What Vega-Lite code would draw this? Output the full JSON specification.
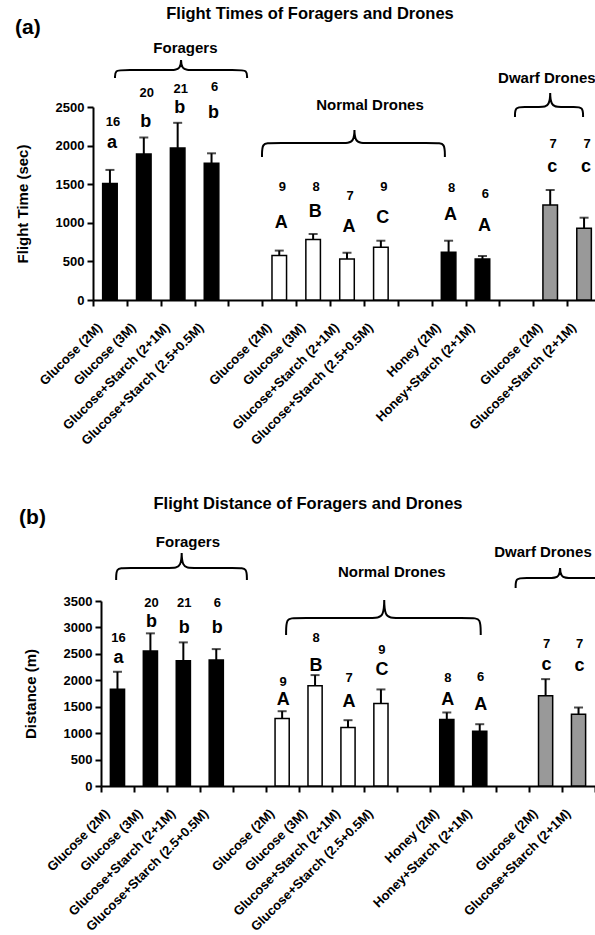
{
  "$schema": "https://vega.github.io/schema/vega-lite/v6.json",
  "autosize": {"type": "none"},
  "padding": {"left": 93, "top": 107, "right": 0, "bottom": 0},
  "background": "white",
  "params": [{"name": "width", "value": 502}, {"name": "height", "value": 828}],
  "config": {
    "font": "Liberation Sans",
    "numberFormat": "d",
    "view": {"stroke": null},
    "text": {"font": "Liberation Sans", "fontWeight": "bold", "color": "black"},
    "title": {"font": "Liberation Sans", "fontWeight": "bold", "color": "black"},
    "axisY": {"grid": false, "format": "d", "tickSize": 6, "tickWidth": 2, "tickColor": "black", "domainWidth": 2, "domainColor": "black", "labelFont": "Liberation Sans", "labelFontSize": 13, "labelFontWeight": "bold", "labelColor": "black", "labelPadding": 3, "titleFont": "Liberation Sans", "titleFontSize": 15, "titleFontWeight": "bold", "titleColor": "black", "titlePadding": 25}
  },
  "datasets": {
    "timeBars": [
      {"key": "Foragers|Glucose (2M)", "type": "Forager", "mean": 1510, "upper": 1685, "letter": "a", "n": "16", "letterY": 2033, "nY": 2305},
      {"key": "Foragers|Glucose (3M)", "type": "Forager", "mean": 1890, "upper": 2105, "letter": "b", "n": "20", "letterY": 2305, "nY": 2681},
      {"key": "Foragers|Glucose+Starch (2+1M)", "type": "Forager", "mean": 1970, "upper": 2295, "letter": "b", "n": "21", "letterY": 2486, "nY": 2732},
      {"key": "Foragers|Glucose+Starch (2.5+0.5M)", "type": "Forager", "mean": 1770, "upper": 1900, "letter": "b", "n": "6", "letterY": 2422, "nY": 2758},
      {"key": "Normal|Glucose (2M)", "type": "Normal", "mean": 575, "upper": 640, "letter": "A", "n": "9", "letterY": 997, "nY": 1463},
      {"key": "Normal|Glucose (3M)", "type": "Normal", "mean": 785, "upper": 855, "letter": "B", "n": "8", "letterY": 1140, "nY": 1463},
      {"key": "Normal|Glucose+Starch (2+1M)", "type": "Normal", "mean": 530, "upper": 612, "letter": "A", "n": "7", "letterY": 945, "nY": 1347},
      {"key": "Normal|Glucose+Starch (2.5+0.5M)", "type": "Normal", "mean": 682, "upper": 768, "letter": "C", "n": "9", "letterY": 1062, "nY": 1463},
      {"key": "Normal|Honey (2M)", "type": "Honey", "mean": 617, "upper": 768, "letter": "A", "n": "8", "letterY": 1101, "nY": 1450},
      {"key": "Normal|Honey+Starch (2+1M)", "type": "Honey", "mean": 531, "upper": 570, "letter": "A", "n": "6", "letterY": 958, "nY": 1373},
      {"key": "Dwarf|Glucose (2M)", "type": "Dwarf", "mean": 1230, "upper": 1425, "letter": "c", "n": "7", "letterY": 1722, "nY": 2020},
      {"key": "Dwarf|Glucose+Starch (2+1M)", "type": "Dwarf", "mean": 928, "upper": 1066, "letter": "c", "n": "7", "letterY": 1722, "nY": 2020}
    ],
    "distBars": [
      {"key": "Foragers|Glucose (2M)", "type": "Forager", "mean": 1832, "upper": 2161, "letter": "a", "n": "16", "letterY": 2414, "nY": 2805},
      {"key": "Foragers|Glucose (3M)", "type": "Forager", "mean": 2552, "upper": 2888, "letter": "b", "n": "20", "letterY": 3108, "nY": 3456},
      {"key": "Foragers|Glucose+Starch (2+1M)", "type": "Forager", "mean": 2369, "upper": 2717, "letter": "b", "n": "21", "letterY": 2983, "nY": 3456},
      {"key": "Foragers|Glucose+Starch (2.5+0.5M)", "type": "Forager", "mean": 2382, "upper": 2590, "letter": "b", "n": "6", "letterY": 2983, "nY": 3456},
      {"key": "Normal|Glucose (2M)", "type": "Normal", "mean": 1277, "upper": 1415, "letter": "A", "n": "9", "letterY": 1624, "nY": 1971},
      {"key": "Normal|Glucose (3M)", "type": "Normal", "mean": 1895, "upper": 2098, "letter": "B", "n": "8", "letterY": 2268, "nY": 2793},
      {"key": "Normal|Glucose+Starch (2+1M)", "type": "Normal", "mean": 1106, "upper": 1245, "letter": "A", "n": "7", "letterY": 1580, "nY": 2035},
      {"key": "Normal|Glucose+Starch (2.5+0.5M)", "type": "Normal", "mean": 1561, "upper": 1827, "letter": "C", "n": "9", "letterY": 2193, "nY": 2572},
      {"key": "Normal|Honey (2M)", "type": "Honey", "mean": 1258, "upper": 1391, "letter": "A", "n": "8", "letterY": 1624, "nY": 2035},
      {"key": "Normal|Honey+Starch (2+1M)", "type": "Honey", "mean": 1037, "upper": 1169, "letter": "A", "n": "6", "letterY": 1529, "nY": 2066},
      {"key": "Dwarf|Glucose (2M)", "type": "Dwarf", "mean": 1706, "upper": 2022, "letter": "c", "n": "7", "letterY": 2287, "nY": 2685},
      {"key": "Dwarf|Glucose+Starch (2+1M)", "type": "Dwarf", "mean": 1359, "upper": 1485, "letter": "c", "n": "7", "letterY": 2268, "nY": 2685}
    ],
    "bracketsA": [
      {"grp": "Foragers", "i": 0, "bx": 0.65, "by": 2875}, {"grp": "Foragers", "i": 1, "bx": 0.65, "by": 2979}, {"grp": "Foragers", "i": 2, "bx": 0.9, "by": 2979}, {"grp": "Foragers", "i": 3, "bx": 2.3, "by": 2979}, {"grp": "Foragers", "i": 4, "bx": 2.6, "by": 2979}, {"grp": "Foragers", "i": 5, "bx": 2.6, "by": 3172}, {"grp": "Foragers", "i": 6, "bx": 2.6, "by": 2979}, {"grp": "Foragers", "i": 7, "bx": 2.9, "by": 2979}, {"grp": "Foragers", "i": 8, "bx": 4.3, "by": 2979}, {"grp": "Foragers", "i": 9, "bx": 4.55, "by": 2979}, {"grp": "Foragers", "i": 10, "bx": 4.55, "by": 2875},
      {"grp": "Normal", "i": 0, "bx": 4.99, "by": 1852}, {"grp": "Normal", "i": 1, "bx": 4.99, "by": 2033}, {"grp": "Normal", "i": 2, "bx": 5.24, "by": 2033}, {"grp": "Normal", "i": 3, "bx": 7.42, "by": 2033}, {"grp": "Normal", "i": 4, "bx": 7.72, "by": 2033}, {"grp": "Normal", "i": 5, "bx": 7.72, "by": 2287}, {"grp": "Normal", "i": 6, "bx": 7.72, "by": 2033}, {"grp": "Normal", "i": 7, "bx": 8.02, "by": 2033}, {"grp": "Normal", "i": 8, "bx": 10.14, "by": 2033}, {"grp": "Normal", "i": 9, "bx": 10.39, "by": 2033}, {"grp": "Normal", "i": 10, "bx": 10.39, "by": 1852},
      {"grp": "Dwarf", "i": 0, "bx": 12.46, "by": 2370}, {"grp": "Dwarf", "i": 1, "bx": 12.46, "by": 2500}, {"grp": "Dwarf", "i": 2, "bx": 12.71, "by": 2500}, {"grp": "Dwarf", "i": 3, "bx": 13.2, "by": 2500}, {"grp": "Dwarf", "i": 4, "bx": 13.5, "by": 2500}, {"grp": "Dwarf", "i": 5, "bx": 13.5, "by": 2772}, {"grp": "Dwarf", "i": 6, "bx": 13.5, "by": 2500}, {"grp": "Dwarf", "i": 7, "bx": 13.8, "by": 2500}, {"grp": "Dwarf", "i": 8, "bx": 14.22, "by": 2500}, {"grp": "Dwarf", "i": 9, "bx": 14.47, "by": 2500}, {"grp": "Dwarf", "i": 10, "bx": 14.47, "by": 2370}
    ],
    "labelsA": [
      {"label": "Foragers", "bx": 2.73, "by": 3263},
      {"label": "Normal Drones", "bx": 8.18, "by": 2525},
      {"label": "Dwarf Drones", "bx": 13.4, "by": 2875}
    ],
    "bracketsB": [
      {"grp": "Foragers", "i": 0, "bx": 0.46, "by": 3898}, {"grp": "Foragers", "i": 1, "bx": 0.46, "by": 4125}, {"grp": "Foragers", "i": 2, "bx": 0.71, "by": 4125}, {"grp": "Foragers", "i": 3, "bx": 2.15, "by": 4125}, {"grp": "Foragers", "i": 4, "bx": 2.45, "by": 4125}, {"grp": "Foragers", "i": 5, "bx": 2.45, "by": 4552}, {"grp": "Foragers", "i": 6, "bx": 2.45, "by": 4125}, {"grp": "Foragers", "i": 7, "bx": 2.75, "by": 4125}, {"grp": "Foragers", "i": 8, "bx": 4.18, "by": 4125}, {"grp": "Foragers", "i": 9, "bx": 4.43, "by": 4125}, {"grp": "Foragers", "i": 10, "bx": 4.43, "by": 3898},
      {"grp": "Normal", "i": 0, "bx": 5.62, "by": 2856}, {"grp": "Normal", "i": 1, "bx": 5.62, "by": 3178}, {"grp": "Normal", "i": 2, "bx": 5.87, "by": 3178}, {"grp": "Normal", "i": 3, "bx": 8.3, "by": 3178}, {"grp": "Normal", "i": 4, "bx": 8.6, "by": 3178}, {"grp": "Normal", "i": 5, "bx": 8.6, "by": 3690}, {"grp": "Normal", "i": 6, "bx": 8.6, "by": 3178}, {"grp": "Normal", "i": 7, "bx": 8.9, "by": 3178}, {"grp": "Normal", "i": 8, "bx": 11.28, "by": 3178}, {"grp": "Normal", "i": 9, "bx": 11.53, "by": 3178}, {"grp": "Normal", "i": 10, "bx": 11.53, "by": 2856},
      {"grp": "Dwarf", "i": 0, "bx": 12.59, "by": 3746}, {"grp": "Dwarf", "i": 1, "bx": 12.59, "by": 3936}, {"grp": "Dwarf", "i": 2, "bx": 12.84, "by": 3936}, {"grp": "Dwarf", "i": 3, "bx": 13.64, "by": 3936}, {"grp": "Dwarf", "i": 4, "bx": 13.94, "by": 3936}, {"grp": "Dwarf", "i": 5, "bx": 13.94, "by": 4220}, {"grp": "Dwarf", "i": 6, "bx": 13.94, "by": 3936}, {"grp": "Dwarf", "i": 7, "bx": 14.24, "by": 3936}, {"grp": "Dwarf", "i": 8, "bx": 15.03, "by": 3936}, {"grp": "Dwarf", "i": 9, "bx": 15.28, "by": 3936}, {"grp": "Dwarf", "i": 10, "bx": 15.28, "by": 3746}
    ],
    "labelsB": [
      {"label": "Foragers", "bx": 2.64, "by": 4624},
      {"label": "Normal Drones", "bx": 8.83, "by": 4055},
      {"label": "Dwarf Drones", "bx": 13.42, "by": 4434}
    ]
  },
  "bounds": "flush",
  "spacing": 494,
  "vconcat": [
    {
      "title": {"text": "(a)", "anchor": "start", "frame": "bounds", "fontSize": 21, "offset": 0, "dy": 32, "dx": 0},
      "bounds": "flush",
      "vconcat": [
        {
          "width": 502,
          "height": 193,
          "title": {"text": "Flight Times of Foragers and Drones", "anchor": "middle", "frame": "group", "dx": -34, "offset": 19, "fontSize": 16.5},
          "resolve": {"scale": {"x": "independent"}},
          "layer": [
            {
              "data": {"name": "timeBars"},
              "encoding": {
                "x": {
                  "field": "key", "type": "nominal",
                  "scale": {"domain": ["Foragers|Glucose (2M)", "Foragers|Glucose (3M)", "Foragers|Glucose+Starch (2+1M)", "Foragers|Glucose+Starch (2.5+0.5M)", "gap1", "Normal|Glucose (2M)", "Normal|Glucose (3M)", "Normal|Glucose+Starch (2+1M)", "Normal|Glucose+Starch (2.5+0.5M)", "gap2", "Normal|Honey (2M)", "Normal|Honey+Starch (2+1M)", "gap3", "Dwarf|Glucose (2M)", "Dwarf|Glucose+Starch (2+1M)"], "range": [0, 508], "paddingInner": 0, "paddingOuter": 0},
                  "axis": {"orient": "bottom", "domain": false, "ticks": false, "grid": false, "title": null, "labelAngle": -45, "labelAlign": "right", "labelBaseline": "middle", "labelPadding": 25, "labelOffset": -10, "labelFont": "Liberation Sans", "labelFontSize": 13, "labelFontWeight": "bold", "labelColor": "black", "labelLimit": 400, "labelOverlap": false, "labelExpr": "indexof(datum.value, '|') < 0 ? '' : substring(datum.value, indexof(datum.value, '|') + 1)"}
                }
              },
              "layer": [
                {
                  "mark": {"type": "bar", "width": {"band": 0.43}, "stroke": "black", "strokeWidth": 1.5},
                  "encoding": {
                    "y": {"field": "mean", "type": "quantitative", "scale": {"domain": [0, 2500], "nice": false}, "axis": {"title": "Flight Time (sec)", "format": "d", "values": [0, 500, 1000, 1500, 2000, 2500]}},
                    "fill": {"field": "type", "type": "nominal", "scale": {"domain": ["Forager", "Normal", "Honey", "Dwarf"], "range": ["#000000", "#ffffff", "#000000", "#999999"]}, "legend": null}
                  }
                },
                {
                  "mark": {"type": "rule", "strokeWidth": 2, "color": "black"},
                  "encoding": {
                    "y": {"field": "mean", "type": "quantitative", "scale": {"domain": [0, 2500], "nice": false}, "axis": {"title": "Flight Time (sec)", "format": "d", "values": [0, 500, 1000, 1500, 2000, 2500]}},
                    "y2": {"field": "upper"}
                  }
                },
                {
                  "mark": {"type": "tick", "thickness": 2, "size": 9, "color": "black"},
                  "encoding": {
                    "y": {"field": "upper", "type": "quantitative", "scale": {"domain": [0, 2500], "nice": false}, "axis": {"title": "Flight Time (sec)", "format": "d", "values": [0, 500, 1000, 1500, 2000, 2500]}}
                  }
                },
                {
                  "mark": {"type": "text", "fontSize": 18, "fontWeight": "bold", "baseline": "middle", "align": "center", "dx": 2, "clip": false},
                  "encoding": {
                    "y": {"field": "letterY", "type": "quantitative", "scale": {"domain": [0, 2500], "nice": false}, "axis": {"title": "Flight Time (sec)", "format": "d", "values": [0, 500, 1000, 1500, 2000, 2500]}},
                    "text": {"field": "letter"}
                  }
                },
                {
                  "mark": {"type": "text", "fontSize": 13, "fontWeight": "bold", "baseline": "middle", "align": "center", "dx": 3, "clip": false},
                  "encoding": {
                    "y": {"field": "nY", "type": "quantitative", "scale": {"domain": [0, 2500], "nice": false}, "axis": {"title": "Flight Time (sec)", "format": "d", "values": [0, 500, 1000, 1500, 2000, 2500]}},
                    "text": {"field": "n"}
                  }
                }
              ]
            },
            {
              "encoding": {
                "x": {"field": "bx", "type": "quantitative", "scale": {"domain": [0, 15], "range": [0, 508], "nice": false, "zero": false},
                  "axis": {"orient": "bottom", "values": [0, 1, 2, 3, 4, 5, 6, 7, 8, 9, 10, 11, 12, 13, 14, 15], "labels": false, "ticks": true, "tickSize": 6, "tickWidth": 2, "tickColor": "black", "domain": true, "domainWidth": 2, "domainColor": "black", "grid": false, "title": null}},
                "y": {"field": "by", "type": "quantitative", "scale": {"domain": [0, 2500], "nice": false}, "axis": {"title": "Flight Time (sec)", "format": "d", "values": [0, 500, 1000, 1500, 2000, 2500]}}
              },
              "layer": [
                {
                  "data": {"name": "bracketsA"},
                  "mark": {"type": "line", "interpolate": "basis", "strokeWidth": 2, "color": "black", "clip": false},
                  "encoding": {"detail": {"field": "grp"}, "order": {"field": "i"}}
                },
                {
                  "data": {"name": "labelsA"},
                  "mark": {"type": "text", "fontSize": 15, "fontWeight": "bold", "baseline": "middle", "align": "center", "clip": false},
                  "encoding": {"text": {"field": "label"}}
                }
              ]
            }
          ]
        }
      ]
    },
    {
      "title": {"text": "(b)", "anchor": "start", "frame": "bounds", "fontSize": 21, "offset": 0, "dy": 32, "dx": -4},
      "bounds": "flush",
      "vconcat": [
        {
          "width": 502,
          "height": 185,
          "title": {"text": "Flight Distance of Foragers and Drones", "anchor": "middle", "frame": "group", "dx": -36, "offset": 22, "fontSize": 16.5},
          "resolve": {"scale": {"x": "independent"}},
          "layer": [
            {
              "data": {"name": "distBars"},
              "encoding": {
                "x": {
                  "field": "key", "type": "nominal",
                  "scale": {"domain": ["Foragers|Glucose (2M)", "Foragers|Glucose (3M)", "Foragers|Glucose+Starch (2+1M)", "Foragers|Glucose+Starch (2.5+0.5M)", "gap1", "Normal|Glucose (2M)", "Normal|Glucose (3M)", "Normal|Glucose+Starch (2+1M)", "Normal|Glucose+Starch (2.5+0.5M)", "gap2", "Normal|Honey (2M)", "Normal|Honey+Starch (2+1M)", "gap3", "Dwarf|Glucose (2M)", "Dwarf|Glucose+Starch (2+1M)"], "range": [8, 502], "paddingInner": 0, "paddingOuter": 0},
                  "axis": {"orient": "bottom", "domain": false, "ticks": false, "grid": false, "title": null, "labelAngle": -45, "labelAlign": "right", "labelBaseline": "middle", "labelPadding": 25, "labelOffset": -10, "labelFont": "Liberation Sans", "labelFontSize": 13, "labelFontWeight": "bold", "labelColor": "black", "labelLimit": 400, "labelOverlap": false, "labelExpr": "indexof(datum.value, '|') < 0 ? '' : substring(datum.value, indexof(datum.value, '|') + 1)"}
                }
              },
              "layer": [
                {
                  "mark": {"type": "bar", "width": {"band": 0.43}, "stroke": "black", "strokeWidth": 1.5},
                  "encoding": {
                    "y": {"field": "mean", "type": "quantitative", "scale": {"domain": [0, 3500], "nice": false}, "axis": {"title": "Distance (m)", "format": "d", "offset": -8, "values": [0, 500, 1000, 1500, 2000, 2500, 3000, 3500]}},
                    "fill": {"field": "type", "type": "nominal", "scale": {"domain": ["Forager", "Normal", "Honey", "Dwarf"], "range": ["#000000", "#ffffff", "#000000", "#999999"]}, "legend": null}
                  }
                },
                {
                  "mark": {"type": "rule", "strokeWidth": 2, "color": "black"},
                  "encoding": {
                    "y": {"field": "mean", "type": "quantitative", "scale": {"domain": [0, 3500], "nice": false}, "axis": {"title": "Distance (m)", "format": "d", "offset": -8, "values": [0, 500, 1000, 1500, 2000, 2500, 3000, 3500]}},
                    "y2": {"field": "upper"}
                  }
                },
                {
                  "mark": {"type": "tick", "thickness": 2, "size": 9, "color": "black"},
                  "encoding": {
                    "y": {"field": "upper", "type": "quantitative", "scale": {"domain": [0, 3500], "nice": false}, "axis": {"title": "Distance (m)", "format": "d", "offset": -8, "values": [0, 500, 1000, 1500, 2000, 2500, 3000, 3500]}}
                  }
                },
                {
                  "mark": {"type": "text", "fontSize": 18, "fontWeight": "bold", "baseline": "middle", "align": "center", "dx": 1, "clip": false},
                  "encoding": {
                    "y": {"field": "letterY", "type": "quantitative", "scale": {"domain": [0, 3500], "nice": false}, "axis": {"title": "Distance (m)", "format": "d", "offset": -8, "values": [0, 500, 1000, 1500, 2000, 2500, 3000, 3500]}},
                    "text": {"field": "letter"}
                  }
                },
                {
                  "mark": {"type": "text", "fontSize": 13, "fontWeight": "bold", "baseline": "middle", "align": "center", "dx": 1, "clip": false},
                  "encoding": {
                    "y": {"field": "nY", "type": "quantitative", "scale": {"domain": [0, 3500], "nice": false}, "axis": {"title": "Distance (m)", "format": "d", "offset": -8, "values": [0, 500, 1000, 1500, 2000, 2500, 3000, 3500]}},
                    "text": {"field": "n"}
                  }
                }
              ]
            },
            {
              "encoding": {
                "x": {"field": "bx", "type": "quantitative", "scale": {"domain": [0, 15], "range": [8, 502], "nice": false, "zero": false},
                  "axis": {"orient": "bottom", "values": [0, 1, 2, 3, 4, 5, 6, 7, 8, 9, 10, 11, 12, 13, 14, 15], "labels": false, "ticks": true, "tickSize": 6, "tickWidth": 2, "tickColor": "black", "domain": true, "domainWidth": 2, "domainColor": "black", "grid": false, "title": null}},
                "y": {"field": "by", "type": "quantitative", "scale": {"domain": [0, 3500], "nice": false}, "axis": {"title": "Distance (m)", "format": "d", "offset": -8, "values": [0, 500, 1000, 1500, 2000, 2500, 3000, 3500]}}
              },
              "layer": [
                {
                  "data": {"name": "bracketsB"},
                  "mark": {"type": "line", "interpolate": "basis", "strokeWidth": 2, "color": "black", "clip": false},
                  "encoding": {"detail": {"field": "grp"}, "order": {"field": "i"}}
                },
                {
                  "data": {"name": "labelsB"},
                  "mark": {"type": "text", "fontSize": 15, "fontWeight": "bold", "baseline": "middle", "align": "center", "clip": false},
                  "encoding": {"text": {"field": "label"}}
                }
              ]
            }
          ]
        }
      ]
    }
  ]
}
